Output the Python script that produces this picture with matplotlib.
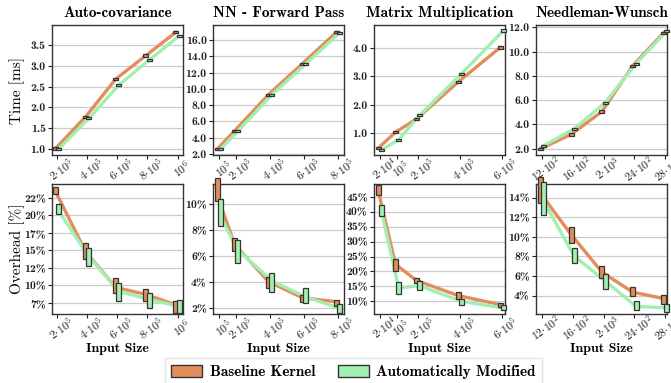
import numpy as np
import matplotlib.pyplot as plt
from matplotlib.patches import Patch

plt.rcParams['mathtext.fontset'] = 'cm'
plt.rcParams['font.family'] = ['cmr10', 'DejaVu Serif']
plt.rcParams['axes.unicode_minus'] = False
plt.rcParams['axes.formatter.use_mathtext'] = True

BOLD = ['cmb10', 'DejaVu Serif']
ORANGE = '#e38d5d'
GREEN = '#a2f0b1'
EDGE = '#333333'

titles = ['Auto-covariance', 'NN - Forward Pass', 'Matrix Multiplication', 'Needleman-Wunsch']

# input sizes per benchmark
autocov_x = [2e5, 4e5, 6e5, 8e5, 1e6]
nn_x = [1e5, 2e5, 4e5, 6e5, 8e5]
mm_x = [2e4, 1e5, 2e5, 4e5, 6e5]
nw_x = [1200, 1600, 2000, 2400, 2800]

autocov_xt = [r'2{\cdot}10^5', r'4{\cdot}10^5', r'6{\cdot}10^5', r'8{\cdot}10^5', r'10^6']
nn_xt = [r'10^5', r'2{\cdot}10^5', r'4{\cdot}10^5', r'6{\cdot}10^5', r'8{\cdot}10^5']
mm_xt = [r'2{\cdot}10^4', r'10^5', r'2{\cdot}10^5', r'4{\cdot}10^5', r'6{\cdot}10^5']
nw_xt = [r'12{\cdot}10^2', r'16{\cdot}10^2', r'2{\cdot}10^3', r'24{\cdot}10^2', r'28{\cdot}10^2']

# execution time [ms] (median) and box spread
autocov_time_base = [1.02, 1.78, 2.68, 3.24, 3.80]
autocov_time_mod = [1.01, 1.74, 2.54, 3.13, 3.71]
autocov_time_iqr = [0.05, 0.05, 0.06, 0.06, 0.05]
nn_time_base = [2.65, 4.83, 9.30, 13.10, 16.95]
nn_time_mod = [2.62, 4.80, 9.27, 13.06, 16.90]
nn_time_iqr = [0.25, 0.25, 0.25, 0.25, 0.25]
mm_time_base = [0.50, 1.04, 1.50, 2.80, 4.00]
mm_time_mod = [0.43, 0.78, 1.63, 3.08, 4.59]
mm_time_iqr = [0.07, 0.07, 0.07, 0.07, 0.09]
nw_time_base = [1.97, 3.16, 5.05, 8.84, 11.56]
nw_time_mod = [2.22, 3.63, 5.79, 9.00, 11.72]
nw_time_iqr = [0.18, 0.18, 0.18, 0.18, 0.18]

# overhead [%]: median, lower quartile, upper quartile
autocov_ovh_base = [23.4, 14.8, 9.7, 8.7, 7.2]
autocov_ovh_base_lo = [23.1, 13.8, 8.9, 7.7, 6.0]
autocov_ovh_base_hi = [24.0, 16.0, 11.0, 9.5, 7.7]
autocov_ovh_mod = [20.6, 14.1, 9.1, 8.0, 6.95]
autocov_ovh_mod_lo = [20.2, 12.7, 7.7, 6.7, 6.0]
autocov_ovh_mod_hi = [21.6, 15.4, 10.3, 8.9, 7.95]

nn_ovh_base = [10.6, 6.9, 4.05, 2.8, 2.5]
nn_ovh_base_lo = [10.26, 6.36, 3.59, 2.46, 2.15]
nn_ovh_base_hi = [11.97, 7.38, 4.41, 3.05, 2.67]
nn_ovh_mod = [9.0, 6.5, 4.1, 2.87, 2.0]
nn_ovh_mod_lo = [8.33, 5.51, 3.28, 2.41, 1.64]
nn_ovh_mod_hi = [10.38, 7.23, 4.74, 3.56, 2.33]

mm_ovh_base = [46.5, 22.4, 17.0, 11.9, 8.9]
mm_ovh_base_lo = [45.6, 20.1, 16.2, 10.9, 8.0]
mm_ovh_base_hi = [49.0, 24.0, 17.9, 13.0, 9.4]
mm_ovh_mod = [39.5, 14.5, 15.2, 10.0, 7.75]
mm_ovh_mod_lo = [38.6, 12.5, 13.7, 8.9, 7.0]
mm_ovh_mod_hi = [42.3, 16.5, 16.7, 10.8, 8.65]

nw_ovh_base = [14.5, 10.25, 6.4, 4.35, 3.7]
nw_ovh_base_lo = [13.5, 9.35, 5.75, 3.93, 3.14]
nw_ovh_base_hi = [16.1, 11.05, 7.0, 4.86, 4.1]
nw_ovh_mod = [13.7, 8.03, 5.5, 2.9, 2.75]
nw_ovh_mod_lo = [12.25, 7.3, 4.7, 2.5, 2.32]
nw_ovh_mod_hi = [15.6, 8.9, 6.2, 3.42, 3.14]

# axis settings
xlims = [(1.66e5, 1.036e6), (0.636e5, 8.35e5), (-1.0e4, 6.16e5), (1126, 2822)]
time_ylims = [(0.865, 3.97), (1.88, 17.84), (0.245, 4.79), (1.47, 12.19)]
time_yticks = [np.arange(1.0, 3.51, 0.5), np.arange(2, 16.1, 2), np.arange(1, 4.1, 1), np.arange(2, 12.1, 2)]
ovh_ylims = [(5.9, 24.48), (1.56, 11.54), (5.73, 49.3), (2.12, 15.4)]
ovh_yticks = [np.arange(7.5, 22.6, 2.5), np.arange(2, 10.1, 2), np.arange(10, 45.1, 5), np.arange(4, 14.1, 2)]

xs = [autocov_x, nn_x, mm_x, nw_x]
xts = [autocov_xt, nn_xt, mm_xt, nw_xt]
time_data = [
    (autocov_time_base, autocov_time_mod, autocov_time_iqr),
    (nn_time_base, nn_time_mod, nn_time_iqr),
    (mm_time_base, mm_time_mod, mm_time_iqr),
    (nw_time_base, nw_time_mod, nw_time_iqr),
]
ovh_data = [
    (autocov_ovh_base, autocov_ovh_base_lo, autocov_ovh_base_hi, autocov_ovh_mod, autocov_ovh_mod_lo, autocov_ovh_mod_hi),
    (nn_ovh_base, nn_ovh_base_lo, nn_ovh_base_hi, nn_ovh_mod, nn_ovh_mod_lo, nn_ovh_mod_hi),
    (mm_ovh_base, mm_ovh_base_lo, mm_ovh_base_hi, mm_ovh_mod, mm_ovh_mod_lo, mm_ovh_mod_hi),
    (nw_ovh_base, nw_ovh_base_lo, nw_ovh_base_hi, nw_ovh_mod, nw_ovh_mod_lo, nw_ovh_mod_hi),
]

W, H = 671, 383
fig = plt.figure(figsize=(W / 100, H / 100), dpi=100)

lefts = [52, 213, 374, 536]
axw = 131
top_row = (25, 155)
bot_row = (184, 314)


def make_ax(left, rows):
    return fig.add_axes([left / W, 1 - rows[1] / H, axw / W, (rows[1] - rows[0]) / H])


def style_ax(ax, col, ylim, yticks, ylabels):
    ax.set_xlim(*xlims[col])
    ax.set_ylim(*ylim)
    ax.set_yticks(yticks)
    ax.set_yticklabels(ylabels, fontfamily=BOLD, fontsize=8.5)
    ax.set_xticks(xs[col])
    ax.set_xticklabels([r'$\mathbf{%s}$' % t for t in xts[col]], rotation=35,
                       rotation_mode='anchor', ha='center', va='top', fontsize=8.5)
    ax.grid(axis='y', color='#cccccc', linewidth=0.9, zorder=0)
    ax.set_axisbelow(True)
    for s in ax.spines.values():
        s.set_color('#333333')
        s.set_linewidth(1.0)
    ax.tick_params(length=3, width=0.8, colors='#222222', pad=1.5)
    ax.tick_params(axis='x', pad=3)


def boxes(ax, col, x, lo, hi, side, color):
    span = xlims[col][1] - xlims[col][0]
    upp = span / axw  # data units per pixel
    xx = np.array(x) + side * 1.6 * upp
    lo = np.array(lo)
    hi = np.array(hi)
    ax.bar(xx, hi - lo, width=5 * upp, bottom=lo, color=color, edgecolor=EDGE,
           linewidth=0.9, zorder=4, clip_on=False)
    return xx


for col in range(4):
    # time row
    ax = make_ax(lefts[col], top_row)
    style_ax(ax, col, time_ylims[col], time_yticks[col],
             ['%.1f' % v for v in time_yticks[col]])
    base, mod, iqr = time_data[col]
    base = np.array(base)
    mod = np.array(mod)
    iqr = np.array(iqr)
    xb = boxes(ax, col, xs[col], base - iqr / 2, base + iqr / 2, -1, ORANGE)
    xm = boxes(ax, col, xs[col], mod - iqr / 2, mod + iqr / 2, 1, GREEN)
    ax.plot(xb, base, color=ORANGE, lw=2.4, zorder=3)
    ax.plot(xm, mod, color=GREEN, lw=2.4, zorder=3)
    ax.set_title(titles[col], fontfamily=BOLD, fontsize=11, pad=6)
    if col == 0:
        ax.set_ylabel('Time [ms]', fontsize=11)
        ax.yaxis.set_label_coords(-0.205, 0.5)

    # overhead row
    ax = make_ax(lefts[col], bot_row)
    style_ax(ax, col, ovh_ylims[col], ovh_yticks[col],
             ['%d%%' % int(v) for v in ovh_yticks[col]])
    b, blo, bhi, m, mlo, mhi = ovh_data[col]
    xb = boxes(ax, col, xs[col], blo, bhi, -1, ORANGE)
    xm = boxes(ax, col, xs[col], mlo, mhi, 1, GREEN)
    ax.plot(xb, b, color=ORANGE, lw=2.4, zorder=3)
    ax.plot(xm, m, color=GREEN, lw=2.4, zorder=3)
    ax.set_xlabel('Input Size', fontfamily=BOLD, fontsize=10)
    ax.xaxis.set_label_coords(0.5, -0.225)
    if col == 0:
        ax.set_ylabel('Overhead [%]', fontsize=11)
        ax.yaxis.set_label_coords(-0.205, 0.5)

handles = [Patch(facecolor=ORANGE, edgecolor=EDGE, label='Baseline Kernel'),
           Patch(facecolor=GREEN, edgecolor=EDGE, label='Automatically Modified')]
leg = fig.legend(handles=handles, loc='upper center', ncol=2,
                 bbox_to_anchor=(353.5 / W, 1 - 358 / H),
                 prop={'family': BOLD, 'size': 11}, frameon=True,
                 fancybox=False, edgecolor='#dddddd', handlelength=2.0,
                 handleheight=0.8, handletextpad=0.5, columnspacing=1.5,
                 borderaxespad=0, borderpad=0.45)

fig.savefig('out.png', dpi=100)
